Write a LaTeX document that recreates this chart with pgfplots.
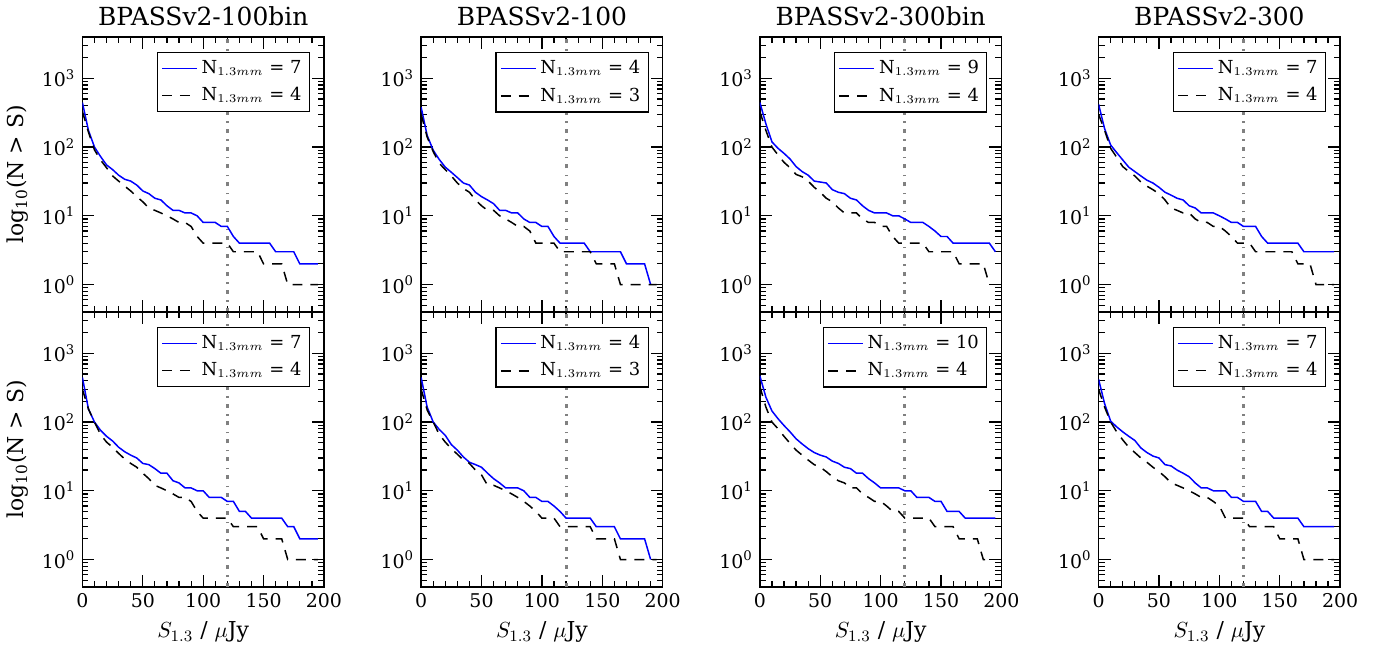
\documentclass[border=0pt]{standalone}
\usepackage{fontspec}
\setmainfont{DejaVu Serif}
\usepackage{pgfplots}
\usepackage{pgfplotstable}
\pgfplotsset{compat=1.18}
\usepgfplotslibrary{groupplots}

\pgfplotstableread{
S A B
0 445 330
5 175 165
10 100 91
15 73 65
20 55 50
25 47 38
30 39 32
35 34 27
40 32 23
45 28 19
50 23 16
55 21 13
60 18 12
65 17 11
70 14 10
75 12 9
80 12 8
85 11 8
90 11 7
95 10 5
100 8 4
105 8 4
110 8 4
115 7 4
120 7 4
125 5 3
130 4 3
135 4 3
140 4 3
145 4 3
150 4 2
155 4 2
160 3 2
165 3 2
170 3 1
175 3 1
180 2 1
185 2 1
190 2 1
195 2 1
}\tAT
\pgfplotstableread{
S A B
0 380 300
5 148 140
10 90 86
15 66 58
20 51 47
25 43 38
30 36 30
35 30 25
40 28 22
45 22 17
50 19 14
55 17 12
60 15 12
65 12 10
70 12 9
75 11 8
80 11 7
85 9 7
90 8 6
95 8 4
100 7 4
105 7 4
110 5 4
115 4 3
120 4 3
125 4 3
130 4 3
135 4 3
140 3 3
145 3 2
150 3 2
155 3 2
160 3 2
165 3 1
170 2 1
175 2 1
180 2 1
185 2 1
190 1 1
195 nan 1
}\tBT
\pgfplotstableread{
S A B
0 445 330
5 218 175
10 119 100
15 96 77
20 81 60
25 67 50
30 52 40
35 44 37
40 39 32
45 32 26
50 31 22
55 30 18
60 24 16
65 22 13
70 21 11
75 18 11
80 17 11
85 14 9
90 12 8
95 11 8
100 11 7
105 11 7
110 10 5
115 10 4
120 9 4
125 8 4
130 8 4
135 8 4
140 7 3
145 6 3
150 5 3
155 5 3
160 4 3
165 4 2
170 4 2
175 4 2
180 4 2
185 4 2
190 4 1
195 3 nan
}\tCT
\pgfplotstableread{
S A B
0 420 300
5 185 175
10 107 96
15 83 71
20 65 52
25 51 44
30 44 38
35 38 31
40 33 27
45 30 24
50 26 21
55 22 17
60 20 13
65 18 12
70 17 11
75 14 11
80 13 9
85 11 8
90 11 8
95 11 7
100 10 7
105 9 6
110 8 5
115 8 4
120 7 4
125 7 4
130 7 3
135 5 3
140 4 3
145 4 3
150 4 3
155 4 3
160 4 3
165 4 2
170 3 2
175 3 2
180 3 1
185 3 1
190 3 1
195 3 1
}\tDT
\pgfplotstableread{
S A B
0 445 300
5 155 155
10 100 100
15 76 66
20 62 51
25 53 43
30 43 35
35 37 29
40 33 25
45 30 22
50 25 18
55 24 15
60 21 12
65 18 11
70 18 10
75 14 9
80 13 8
85 11 8
90 11 7
95 10 5
100 10 4
105 8 4
110 8 4
115 8 4
120 7 4
125 7 3
130 5 3
135 5 3
140 4 3
145 4 3
150 4 2
155 4 2
160 4 2
165 4 2
170 3 1
175 3 1
180 2 1
185 2 1
190 2 1
195 2 1
}\tAB
\pgfplotstableread{
S A B
0 445 300
5 165 150
10 100 100
15 78 66
20 64 51
25 47 41
30 39 34
35 31 28
40 26 25
45 24 20
50 22 17
55 18 12
60 15 12
65 13 11
70 11 10
75 11 9
80 11 8
85 10 7
90 8 6
95 8 5
100 7 4
105 7 4
110 6 4
115 5 3
120 4 3
125 4 3
130 4 3
135 4 3
140 4 3
145 3 2
150 3 2
155 3 2
160 3 2
165 2 1
170 2 1
175 2 1
180 2 1
185 2 1
190 1 1
195 nan 1
}\tBB
\pgfplotstableread{
S A B
0 470 330
5 230 165
10 145 100
15 112 80
20 89 62
25 72 49
30 57 39
35 48 33
40 41 28
45 36 24
50 33 22
55 31 19
60 27 16
65 25 14
70 22 13
75 21 11
80 18 11
85 18 9
90 15 8
95 13 7
100 11 7
105 11 6
110 11 5
115 11 5
120 10 4
125 10 4
130 8 4
135 8 4
140 8 4
145 7 3
150 7 3
155 5 3
160 5 3
165 5 2
170 4 2
175 4 2
180 4 2
185 4 1
190 4 1
195 4 nan
}\tCB
\pgfplotstableread{
S A B
0 420 300
5 185 165
10 103 100
15 85 72
20 72 55
25 62 43
30 54 36
35 42 30
40 36 26
45 32 22
50 30 19
55 24 16
60 23 13
65 20 12
70 18 11
75 16 10
80 13 9
85 11 8
90 11 8
95 10 7
100 10 6
105 10 4
110 8 4
115 8 4
120 7 4
125 7 3
130 7 3
135 5 3
140 5 3
145 4 3
150 4 2
155 4 2
160 4 2
165 4 2
170 3 1
175 3 1
180 3 1
185 3 1
190 3 1
195 3 1
}\tDB

\pgfplotsset{
  panel/.style={
    ymode=log, xmin=0, xmax=200, ymin=0.4, ymax=4000,
    scale only axis, width=121.25pt, height=138pt,
    xtick={0,50,100,150,200}, minor x tick num=4,
    ytick={1,10,100,1000},
    yticklabels={10\textsuperscript{0},10\textsuperscript{1},10\textsuperscript{2},10\textsuperscript{3}},
    minor ytick={0.5,0.6,0.7,0.8,0.9,2,3,4,5,6,7,8,9,20,30,40,50,60,70,80,90,200,300,400,500,600,700,800,900,2000,3000,4000},
    tick align=inside, xtick pos=both, ytick pos=both,
    major tick length=6pt, minor tick length=3pt,
    every tick/.style={black, line width=0.6pt},
    axis line style={line width=0.75pt},
    tick label style={font=\fontsize{9.5}{11}\selectfont},
    /pgf/number format/assume math mode=true,
    title style={font=\fontsize{12.5}{14}\selectfont, yshift=-4pt},
    label style={font=\fontsize{11}{13}\selectfont},
    xlabel={$S_{1.3}$ / $\mu$Jy},
    ylabel={log\textsubscript{10}(N > S)},
    legend cell align=left,
    legend style={at={(1,1)}, anchor=north east, xshift=-7pt, yshift=-7.5pt,
      draw=black, line width=0.6pt, fill=white,
      font=\fontsize{9}{10}\selectfont, inner xsep=2pt, inner ysep=2pt,
      row sep=1.5pt,
      /tikz/every even column/.append style={column sep=5pt}},
    legend image code/.code={\draw[#1] (0pt,0pt) -- (17.5pt,0pt);},
  },
  sA/.style={blue, line width=0.75pt},
  sB/.style={black, line width=0.75pt, dash pattern=on 5pt off 4pt},
  vl/.style={forget plot, gray, line width=1.5pt, dash pattern=on 2pt off 3pt on 0.8pt off 3.2pt},
}

\newcommand{\Nleg}[1]{N$_{1.3mm}$ = #1}

\begin{document}
\begin{tikzpicture}
\begin{groupplot}[group style={group size=4 by 2, horizontal sep=48.75pt, vertical sep=0pt,
    xticklabels at=edge bottom, xlabels at=edge bottom, ylabels at=edge left},
  panel]
\nextgroupplot[title={BPASSv2-100bin}]
\addplot[vl] coordinates {(120,0.4) (120,4000)};
\addplot[sA] table[x=S,y=A] {\tAT};
\addplot[sB] table[x=S,y=B] {\tAT};
\legend{\Nleg{7},\Nleg{4}}
\nextgroupplot[title={BPASSv2-100}]
\addplot[vl] coordinates {(120,0.4) (120,4000)};
\addplot[sA] table[x=S,y=A] {\tBT};
\addplot[sB] table[x=S,y=B] {\tBT};
\legend{\Nleg{4},\Nleg{3}}
\nextgroupplot[title={BPASSv2-300bin}]
\addplot[vl] coordinates {(120,0.4) (120,4000)};
\addplot[sA] table[x=S,y=A] {\tCT};
\addplot[sB] table[x=S,y=B] {\tCT};
\legend{\Nleg{9},\Nleg{4}}
\nextgroupplot[title={BPASSv2-300}]
\addplot[vl] coordinates {(120,0.4) (120,4000)};
\addplot[sA] table[x=S,y=A] {\tDT};
\addplot[sB] table[x=S,y=B] {\tDT};
\legend{\Nleg{7},\Nleg{4}}
\nextgroupplot
\addplot[vl] coordinates {(120,0.4) (120,4000)};
\addplot[sA] table[x=S,y=A] {\tAB};
\addplot[sB] table[x=S,y=B] {\tAB};
\legend{\Nleg{7},\Nleg{4}}
\nextgroupplot
\addplot[vl] coordinates {(120,0.4) (120,4000)};
\addplot[sA] table[x=S,y=A] {\tBB};
\addplot[sB] table[x=S,y=B] {\tBB};
\legend{\Nleg{4},\Nleg{3}}
\nextgroupplot
\addplot[vl] coordinates {(120,0.4) (120,4000)};
\addplot[sA] table[x=S,y=A] {\tCB};
\addplot[sB] table[x=S,y=B] {\tCB};
\legend{\Nleg{10},\Nleg{4}}
\nextgroupplot
\addplot[vl] coordinates {(120,0.4) (120,4000)};
\addplot[sA] table[x=S,y=A] {\tDB};
\addplot[sB] table[x=S,y=B] {\tDB};
\legend{\Nleg{7},\Nleg{4}}
\end{groupplot}
\path (group c1r1.north west) ++(-38.5pt,13.5pt);
\path (group c4r2.south east) ++(21pt,-28.5pt);
\end{tikzpicture}
\end{document}
